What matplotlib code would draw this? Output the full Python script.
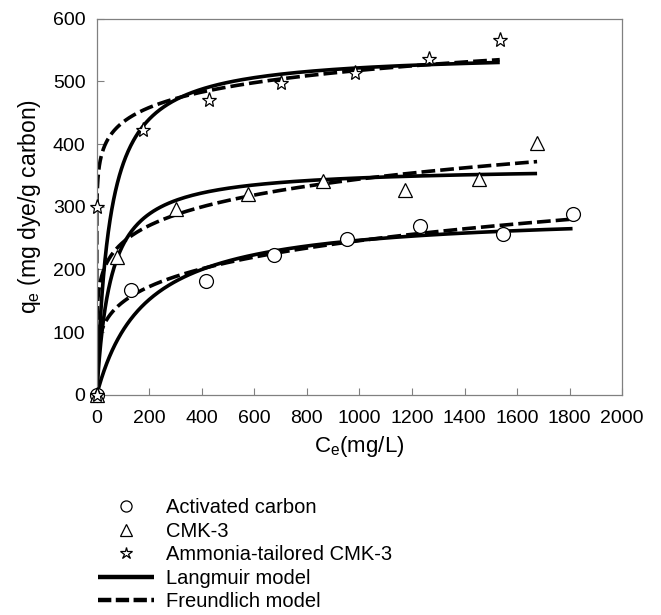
import numpy as np
import matplotlib
matplotlib.use("Agg")
import matplotlib.pyplot as plt
from matplotlib.lines import Line2D

plt.rcParams['font.family'] = ['Liberation Sans', 'DejaVu Sans']
plt.rcParams['mathtext.default'] = 'regular'

# Equilibrium data: Ce (mg/L), qe (mg dye / g carbon)
ac_ce = [0, 131, 416, 676, 951, 1230, 1545, 1811]
ac_qe = [0, 167, 182, 223, 249, 270, 256, 289]

cmk_ce = [0, 79, 302, 574, 861, 1175, 1456, 1676]
cmk_qe = [0, 220, 296, 320, 341, 326, 345, 402]

amm_ce = [0, 0, 177, 429, 702, 984, 1266, 1534]
amm_qe = [0, 300, 422, 471, 497, 513, 535, 566]

# Fitted isotherm parameters
# Langmuir: qe = qm*KL*Ce/(1+KL*Ce);  Freundlich: qe = KF*Ce^(1/n)
ac_langmuir = (292.0, 0.00543)
cmk_langmuir = (364.0, 0.0191)
amm_langmuir = (547.0, 0.0205)
ac_freundlich = (53.8, 0.220)
cmk_freundlich = (121.6, 0.1506)
amm_freundlich = (307.0, 0.0756)

series = [
    (ac_ce, ac_qe, ac_langmuir, ac_freundlich),
    (cmk_ce, cmk_qe, cmk_langmuir, cmk_freundlich),
    (amm_ce, amm_qe, amm_langmuir, amm_freundlich),
]
markers = ['o', '^', '*']
marker_sizes = [10, 10, 11]
labels = ['Activated carbon', 'CMK-3', 'Ammonia-tailored CMK-3']


def langmuir(c, qm, k):
    return qm * k * c / (1 + k * c)


def freundlich(c, kf, inv_n):
    return kf * np.power(c, inv_n)


fig = plt.figure(figsize=(6.61, 6.15), dpi=100)
ax = fig.add_axes([0.1463, 0.358, 0.795, 0.6117])

lw = 2.6
dash = (3.8, 1.4)
for (ce, qe, lp, fp), m, ms in zip(series, markers, marker_sizes):
    cmax = max(ce)
    c = np.concatenate([[0.0], np.geomspace(0.01, cmax, 600)])
    ax.plot(c, langmuir(c, *lp), color='black', lw=lw, solid_capstyle='butt', zorder=2)
    ax.plot(c, freundlich(c, *fp), color='black', lw=lw, dashes=dash, zorder=2)
    ax.plot(ce, qe, linestyle='none', marker=m, ms=ms, mfc='white', mec='black',
            mew=0.9, zorder=3, clip_on=False)

ax.set_xlim(0, 2000)
ax.set_ylim(0, 600)
ax.set_xticks(np.arange(0, 2001, 200))
ax.set_yticks(np.arange(0, 601, 100))
ax.tick_params(direction='in', length=5, width=0.8, color='#808080',
               labelsize=14, pad=8)
ax.tick_params(axis='x', pad=11)
for sp in ax.spines.values():
    sp.set_color('#808080')
    sp.set_linewidth(0.9)

ax.set_xlabel('C$_e$(mg/L)', fontsize=16, labelpad=5)
ax.set_ylabel('q$_e$ (mg dye/g carbon)', fontsize=16.5, labelpad=7)

handles = [Line2D([], [], linestyle='none', marker=m, ms=ms * 0.8, mfc='white',
                  mec='black', mew=0.9) for m, ms in zip(markers, marker_sizes)]
handles += [Line2D([], [], color='black', lw=3.2, solid_capstyle='butt'),
            Line2D([], [], color='black', lw=3.2, dashes=(3.0, 1.0))]
fig.legend(handles, labels + ['Langmuir model', 'Freundlich model'],
           loc='lower left', bbox_to_anchor=(98 / 661, 4 / 615), bbox_transform=fig.transFigure,
           frameon=False, fontsize=14.5, handlelength=2.8, handletextpad=0.56,
           labelspacing=0.22, borderaxespad=0, borderpad=0)

fig.savefig('out.png', dpi=100)
